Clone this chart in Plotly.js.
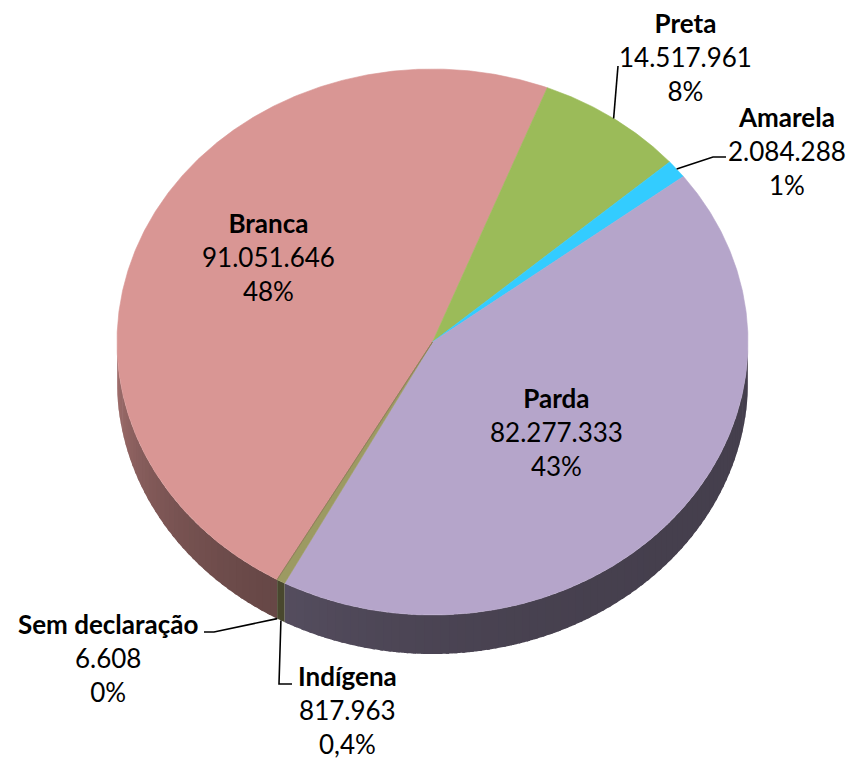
<!DOCTYPE html>
<html><head><meta charset="utf-8">
<script src="https://cdn.plot.ly/plotly-3.0.1.min.js"></script>
<style>html,body{margin:0;padding:0;background:#fff;}#chart{width:851px;height:759px;}</style>
</head><body><div id="chart"></div>
<script>
// ---- data ----
const categories = ['Branca', 'Preta', 'Amarela', 'Parda', 'Indígena', 'Sem declaração'];
const values = [91051646, 14517961, 2084288, 82277333, 817963, 6608];
const pctLabels = ['48%', '8%', '1%', '43%', '0,4%', '0%'];

// ---- style ----
const topColors = ['#D99694', '#9BBB59', '#33CCFF', '#B5A5CA', '#9C9A62', '#8C7A58'];
const labelPos = [[268, 257], [685, 57], [787, 151], [556, 432], [347, 710], [108, 658]];
const leaderElbows = [null, [[618, 66]], [[726, 157], [713, 157]], null, [[292, 684], [279, 684]], [[204, 632], [214, 632]]];
const CX = 432.5, CY = 342, RX = 315.5, RY = 273, DEPTH = 39, START = 209.5;
const FONT = 'Lato, "Open Sans", sans-serif';

function pt(theta, dy) {
  const r = theta * Math.PI / 180;
  return [CX + RX * Math.sin(r), CY - RY * Math.cos(r) + (dy || 0)];
}
function hexToRgb(h) { h = h.replace('#', ''); return [0, 2, 4].map(i => parseInt(h.substr(i, 2), 16)); }
function shade(h, k) { const c = hexToRgb(h).map(v => Math.round(v * k)); return 'rgb(' + c.join(',') + ')'; }
function fmt(n) { return String(n).replace(/\B(?=(\d{3})+(?!\d))/g, '.'); }

const total = values.reduce((a, b) => a + b, 0);
const slices = [];
let acc = START;
values.forEach((v, i) => { const span = 360 * v / total; slices.push([acc, acc + span]); acc += span; });

function arc(t0, t1, dy, step) {
  const out = [];
  const n = Math.max(1, Math.ceil(Math.abs(t1 - t0) / step));
  for (let j = 0; j <= n; j++) out.push(pt(t0 + (t1 - t0) * j / n, dy));
  return out;
}

const traces = [];
// walls (front half: theta mod 360 in [90,270])
const frontRanges = [[90, 270], [450, 630]];
slices.forEach(([a, b], i) => {
  frontRanges.forEach(([lo, hi]) => {
    const s = Math.max(a, lo), e = Math.min(b, hi);
    if (e <= s) return;
    const step = 1.5;
    for (let t0 = s; t0 < e; t0 += step) {
      const t1 = Math.min(e, t0 + step);
      const t1x = Math.min(e, t1 + 0.6); // overlap to hide seams
      const poly = arc(t0, t1x, 0, 0.3).concat(arc(t1x, t0, DEPTH, 0.3));
      const tm = (((t0 + t1) / 2) % 360 - 90) / 180;
      const k = 0.38 + 0.38 * Math.pow(Math.max(0, tm), 3.5);
      const col = shade(topColors[i], k);
      traces.push({ type: 'scatter', mode: 'none', x: poly.map(p => p[0]), y: poly.map(p => p[1]),
        fill: 'toself', fillcolor: col, hoverinfo: 'skip', showlegend: false });
    }
  });
});
// top faces
slices.forEach(([a, b], i) => {
  const poly = [[CX, CY]].concat(arc(a, b, 0, 0.4)).concat([[CX, CY]]);
  traces.push({ type: 'scatter', mode: 'lines', x: poly.map(p => p[0]), y: poly.map(p => p[1]), fill: 'toself',
    fillcolor: topColors[i], line: { color: topColors[i], width: 0.6 }, hoverinfo: 'skip', showlegend: false });
});
// leader lines
slices.forEach(([a, b], i) => {
  if (!leaderElbows[i]) return;
  const m = (a + b) / 2;
  const front = Math.cos(m * Math.PI / 180) < 0;
  const anc = pt(m, front ? DEPTH : 0);
  const pts = leaderElbows[i].concat([anc]);
  traces.push({ type: 'scatter', mode: 'lines', x: pts.map(p => p[0]), y: pts.map(p => p[1]),
    line: { color: '#000', width: 1.6 }, hoverinfo: 'skip', showlegend: false });
});

const annotations = categories.map((c, i) => ({
  x: labelPos[i][0], y: labelPos[i][1], xref: 'x', yref: 'y', showarrow: false,
  xanchor: 'center', yanchor: 'middle', align: 'center',
  text: '<b>' + c + '</b><br>' + fmt(values[i]) + '<br>' + pctLabels[i],
  font: { family: FONT, size: 26, color: '#000' }
}));

Plotly.newPlot('chart', traces, {
  width: 851, height: 759, margin: { l: 0, r: 0, t: 0, b: 0 },
  paper_bgcolor: '#fff', plot_bgcolor: '#fff', showlegend: false,
  xaxis: { range: [0, 851], visible: false, fixedrange: true },
  yaxis: { range: [759, 0], visible: false, fixedrange: true },
  annotations: annotations
}, { staticPlot: true, displayModeBar: false });
</script></body></html>
